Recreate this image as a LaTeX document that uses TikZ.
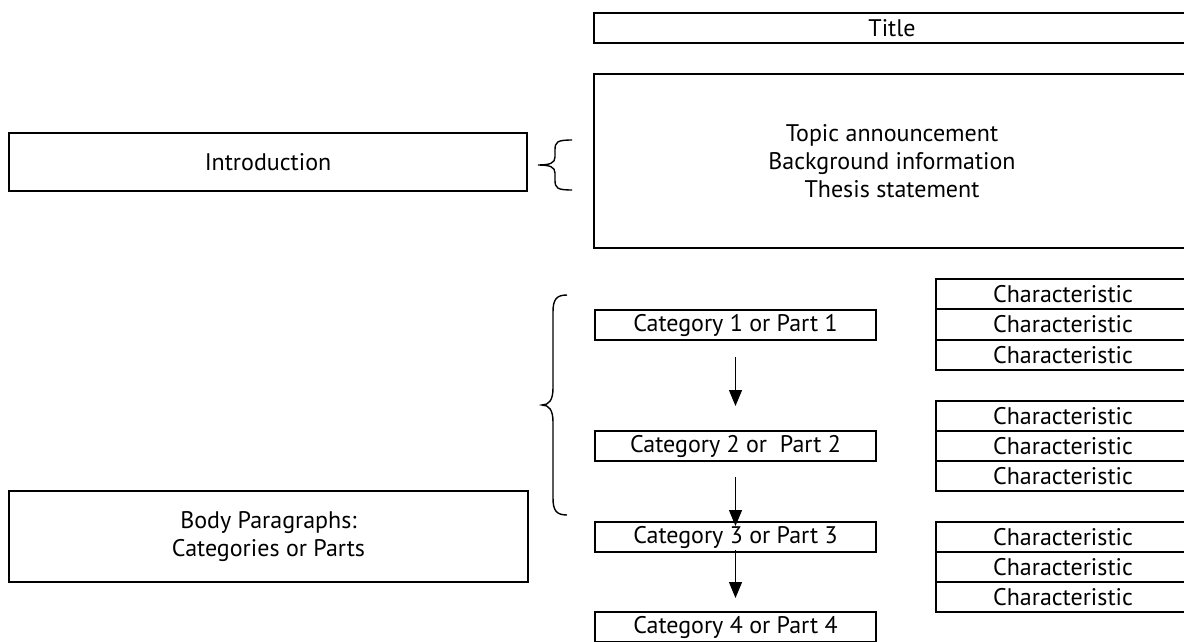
\documentclass[tikz,border=0pt]{standalone}
\usepackage{fontspec}
\setmainfont{PT Sans}
\usepackage{tikz}
\usetikzlibrary{arrows.meta}
\tikzstyle{box}=[draw, line width=1.1pt, inner sep=0pt, outer sep=0pt, align=center, font={\fontsize{12}{14}\selectfont}]
\tikzstyle{part}=[box, minimum width=140.5pt, minimum height=15pt]
\tikzstyle{trait}=[box, minimum width=127pt, minimum height=15.2pt]
\tikzstyle{flow}=[-{Triangle[length=8pt, width=6.5pt]}, line width=0.6pt]

\begin{document}
\begin{tikzpicture}[x=0.5pt, y=-0.5pt, thick]
                    \useasboundingbox (0, 0) rectangle (1184, 642);
                    \node[box, minimum width=298pt, minimum height=15pt] (t0) at (892, 28) {Title};
                    \node[box, minimum width=298pt, minimum height=87pt] (t1) at (892, 161)
                        {Topic announcement\\Background information\\Thesis statement};
                    \node[box, minimum width=259pt, minimum height=29pt] (l1) at (268, 162) {Introduction};
                    \node[box, minimum width=259.5pt, minimum height=45.5pt] (l2) at (268.5, 536.5)
                        {Body Paragraphs:\\Categories or Parts};
                    \node[part] (1) at (735.5, 325) {Category 1 or Part 1};
                    \node[part] (2) at (735.5, 446) {Category 2 or\ \ Part 2};
                    \node[part] (3) at (735.5, 537) {Category 3 or Part 3};
                    \node[part] (4) at (735.5, 627) {Category 4 or Part 4};
                    \node[trait] (11) at (1063, 294) {Characteristic};
                    \node[trait] (12) at (1063, 324.5) {Characteristic};
                    \node[trait] (13) at (1063, 355) {Characteristic};
                    \node[trait] (21) at (1063, 416) {Characteristic};
                    \node[trait] (22) at (1063, 446) {Characteristic};
                    \node[trait] (23) at (1063, 476) {Characteristic};
                    \node[trait] (31) at (1063, 537) {Characteristic};
                    \node[trait] (32) at (1063, 567) {Characteristic};
                    \node[trait] (33) at (1063, 597) {Characteristic};
                    \draw[flow, shorten <=8.5pt, shorten >=12.5pt] (1)--(2);
                    \draw[flow, shorten <=8pt, shorten >=-2pt]     (2)--(3);
                    \draw[flow, shorten <=-1pt, shorten >=7pt]     (3)--(4);
                    % braces
                    \draw[line width=0.7pt] (572, 140) .. controls (557, 140) and (555, 142) .. (555, 150)
                        -- (555, 157) .. controls (555, 163) and (550, 165) .. (538, 165)
                        .. controls (550, 165) and (555, 167) .. (555, 173)
                        -- (555, 180) .. controls (555, 188) and (557, 190) .. (572, 190);
                    \draw[line width=0.7pt] (567, 295) .. controls (556, 295) and (553, 300) .. (553, 312)
                        -- (553, 388) .. controls (553, 400) and (549, 405) .. (542, 405)
                        .. controls (549, 405) and (553, 410) .. (553, 422)
                        -- (553, 498) .. controls (553, 510) and (556, 515) .. (567, 515);
                \end{tikzpicture}
\end{document}
